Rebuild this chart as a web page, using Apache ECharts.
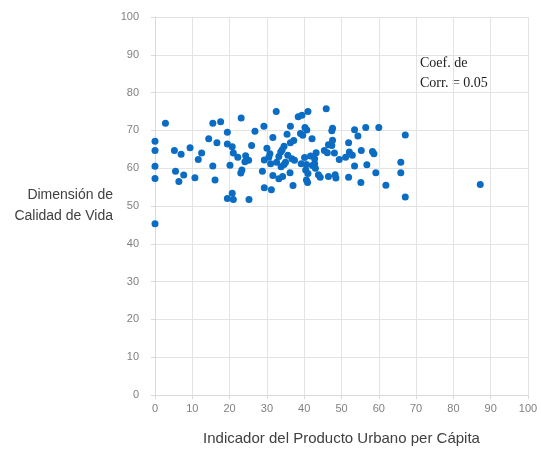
<!DOCTYPE html>
<html>
<head>
<meta charset="utf-8">
<script src="https://cdn.jsdelivr.net/npm/echarts@6/dist/echarts.min.js"></script>
<style>
  html, body { margin: 0; padding: 0; background: #fff; }
  #chart { width: 541px; height: 450px; }
</style>
</head>
<body>
<div id="chart"></div>
<script>
// Indicador del Producto Urbano per Cápita (x)
var productoUrbano = [
    0, 0, 0, 0, 0, 2.8, 5.2, 7.0, 9.4, 11.6,
    12.5, 5.5, 7.7, 6.4, 10.7, 15.5, 17.6, 23.1, 14.4, 16.6,
    19.4, 19.4, 20.7, 21.0, 22.2, 24.3, 25.1, 24.1, 25.9, 26.8,
    29.2, 15.5, 20.1, 23.3, 23.0, 16.1, 28.8, 29.3, 19.4, 20.7,
    21.0, 25.2, 29.3, 32.5, 38.4, 39.4, 41.0, 36.3, 40.2, 40.7,
    31.6, 35.4, 39.0, 39.6, 42.1, 36.3, 37.2, 34.6, 30.0, 34.1,
    33.7, 30.8, 30.5, 33.2, 35.6, 36.7, 37.4, 40.1, 41.7, 31.0,
    32.6, 33.8, 34.6, 35.0, 39.2, 40.6, 40.4, 41.0, 42.2, 36.2,
    31.6, 33.2, 34.2, 31.2, 37.0, 40.6, 40.9, 45.9, 47.6, 47.4,
    53.5, 54.4, 47.6, 46.5, 47.4, 51.9, 45.4, 46.2, 48.1, 52.1,
    52.9, 51.1, 55.3, 43.2, 49.4, 42.8, 42.8, 43.0, 53.5, 43.8,
    44.3, 46.5, 48.3, 48.5, 51.9, 55.2, 56.5, 60.0, 67.1, 58.3,
    58.7, 56.8, 59.2, 65.9, 65.9, 61.9, 67.1, 87.2
];
// Dimensión de Calidad de Vida (y)
var calidadVida = [
    67.1, 64.7, 60.5, 57.3, 45.3, 71.9, 64.7, 63.7, 65.4, 62.3,
    64.0, 59.2, 58.2, 56.5, 57.5, 71.9, 72.3, 73.3, 67.8, 66.7,
    69.5, 66.4, 65.7, 64.0, 62.9, 63.3, 62.1, 61.7, 66.0, 69.8,
    71.1, 60.6, 60.8, 59.5, 58.7, 56.9, 59.2, 62.2, 52.0, 53.4,
    51.7, 51.7, 54.8, 75.0, 73.6, 74.0, 75.0, 71.1, 70.8, 70.1,
    68.1, 69.0, 69.2, 68.7, 67.8, 66.7, 67.3, 65.8, 65.3, 64.9,
    64.3, 63.8, 62.9, 63.1, 63.4, 62.5, 62.1, 62.8, 63.2, 61.2,
    61.6, 60.4, 61.0, 61.6, 61.2, 61.0, 59.5, 58.6, 60.7, 58.8,
    58.1, 57.2, 57.8, 54.3, 55.4, 56.9, 56.2, 75.7, 70.6, 69.9,
    70.2, 68.5, 67.4, 66.2, 66.0, 66.7, 64.7, 64.1, 64.0, 64.3,
    63.4, 62.9, 64.7, 64.1, 62.3, 62.5, 61.2, 60.0, 60.6, 58.3,
    57.6, 57.8, 58.3, 57.4, 57.6, 56.2, 70.8, 70.8, 68.8, 64.4,
    63.8, 60.9, 58.8, 61.6, 58.8, 55.5, 52.4, 55.7
];
var xTicks = [0, 100, 10];
var yTicks = [0, 100, 10];
var corrText = 'Coef. de\nCorr. = 0.05';

var puntos = productoUrbano.map(function (x, i) {
    return [x, calidadVida[i]];
});

var labelFont = 'Liberation Sans, Arial, sans-serif';

var option = {
    animation: false,
    grid: { left: 155, right: 13, top: 17, bottom: 55, outerBoundsMode: 'none' },
    xAxis: {
        type: 'value',
        min: xTicks[0],
        max: xTicks[1],
        interval: xTicks[2],
        name: 'Indicador del Producto Urbano per Cápita',
        nameLocation: 'middle',
        nameGap: 36,
        nameTextStyle: { color: '#404040', fontSize: 15, fontFamily: labelFont },
        axisLine: { lineStyle: { color: '#d9d9d9' } },
        axisTick: { show: true, length: 4, lineStyle: { color: '#d9d9d9' } },
        axisLabel: { color: '#808080', fontSize: 11, margin: 8, fontFamily: labelFont },
        splitLine: { show: true, lineStyle: { color: '#e3e3e3' } }
    },
    yAxis: {
        type: 'value',
        min: yTicks[0],
        max: yTicks[1],
        interval: yTicks[2],
        name: 'Dimensión de\nCalidad de Vida',
        nameLocation: 'middle',
        nameRotate: 0,
        nameGap: 42,
        nameTextStyle: { color: '#404040', fontSize: 14, lineHeight: 21, align: 'right', fontFamily: labelFont },
        axisLine: { show: true, lineStyle: { color: '#d9d9d9' } },
        axisTick: { show: true, length: 4, lineStyle: { color: '#d9d9d9' } },
        axisLabel: { color: '#808080', fontSize: 11, margin: 16, fontFamily: labelFont },
        splitLine: { show: true, lineStyle: { color: '#e3e3e3' } }
    },
    graphic: [{
        type: 'text',
        left: 420,
        top: 54,
        style: {
            text: corrText,
            fill: '#222',
            font: '14px "Liberation Serif", "Times New Roman", serif',
            lineHeight: 19.5
        }
    }],
    series: [{
        type: 'scatter',
        symbolSize: 7,
        itemStyle: { color: '#0a6cc2', opacity: 1 },
        data: puntos
    }]
};

var myChart = echarts.init(document.getElementById('chart'));
myChart.setOption(option);
</script>
</body>
</html>
